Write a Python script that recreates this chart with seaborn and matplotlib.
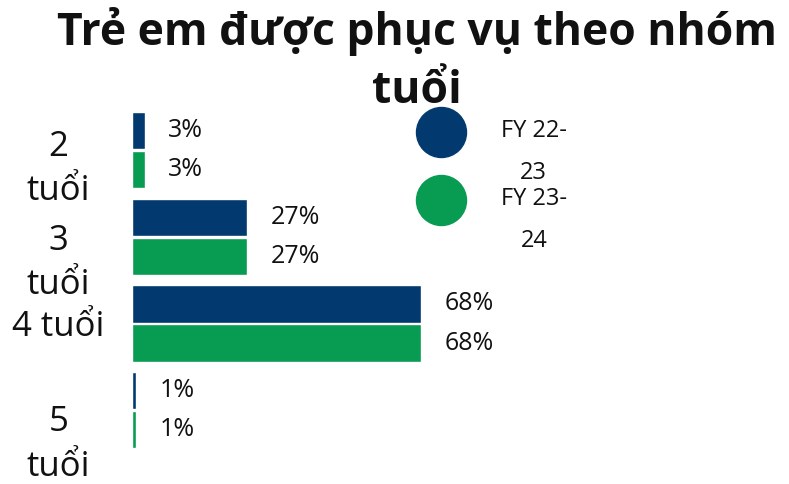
import matplotlib
matplotlib.use("Agg")
import matplotlib.pyplot as plt
import matplotlib.transforms as mtransforms
from matplotlib.lines import Line2D
import seaborn as sns
import pandas as pd

# ---- data ----
age_groups = ["2\ntuổi", "3\ntuổi", "4 tuổi", "5\ntuổi"]
fy_22_23 = [3, 27, 68, 1]
fy_23_24 = [3, 27, 68, 1]
series_names = ["FY 22-\n23", "FY 23-\n24"]
title_text = "Trẻ em được phục vụ theo nhóm\ntuổi"

# ---- style ----
navy = "#023a6f"
green = "#089b52"
sns.set_theme(style="white")
plt.rcParams["font.family"] = ["Open Sans", "DejaVu Sans"]

df = pd.DataFrame({
    "age": age_groups * 2,
    "pct": fy_22_23 + fy_23_24,
    "year": [series_names[0]] * len(age_groups) + [series_names[1]] * len(age_groups),
})

fig = plt.figure(figsize=(7.89, 4.84), dpi=100)
ax = fig.add_axes([132 / 789, 0.0, 1 - 132 / 789, 1 - 106 / 484])

sns.barplot(data=df, y="age", x="pct", hue="year", orient="h",
            palette=[navy, green], width=0.9, gap=0.05, ax=ax,
            legend=False, saturation=1)

for cont in ax.containers:
    ax.bar_label(cont, fmt="%g%%", padding=17, fontsize=18, color="#111111")

ax.set_xlim(0, 154.6)
ax.set_ylim(3.85, -0.507)
ax.set_xlabel("")
ax.set_ylabel("")
ax.set_xticks([])
for s in ax.spines.values():
    s.set_visible(False)
ax.tick_params(axis="y", length=0, pad=53, labelsize=25)

label_shift_px = [10, 17, 0, 25]
for lab, dy in zip(ax.get_yticklabels(), label_shift_px):
    lab.set_horizontalalignment("center")
    lab.set_multialignment("center")
    lab.set_linespacing(1.4)
    lab.set_color("#111111")
    lab.set_transform(lab.get_transform() +
                      mtransforms.ScaledTranslation(0, -dy / 100, fig.dpi_scale_trans))

handles = [Line2D([], [], marker="o", ls="", markersize=36, color=c) for c in (navy, green)]
leg = fig.legend(handles, series_names, loc="upper left",
                 bbox_to_anchor=(417 / 789, 1 - 98 / 484), frameon=False,
                 fontsize=17, handlelength=2.0, handletextpad=1.55,
                 labelspacing=0.1, borderpad=0, borderaxespad=0)
for t in leg.get_texts():
    t.set_multialignment("center")
    t.set_linespacing(2.0)
    t.set_color("#111111")
    t.set_transform(t.get_transform() +
                    mtransforms.ScaledTranslation(0, -0.21, fig.dpi_scale_trans))

fig.text(417 / 789, 1 - 7 / 484, title_text, ha="center", va="top",
         fontsize=32, fontweight="bold", color="#111111", linespacing=1.38)

fig.savefig("out.png", dpi=100)
